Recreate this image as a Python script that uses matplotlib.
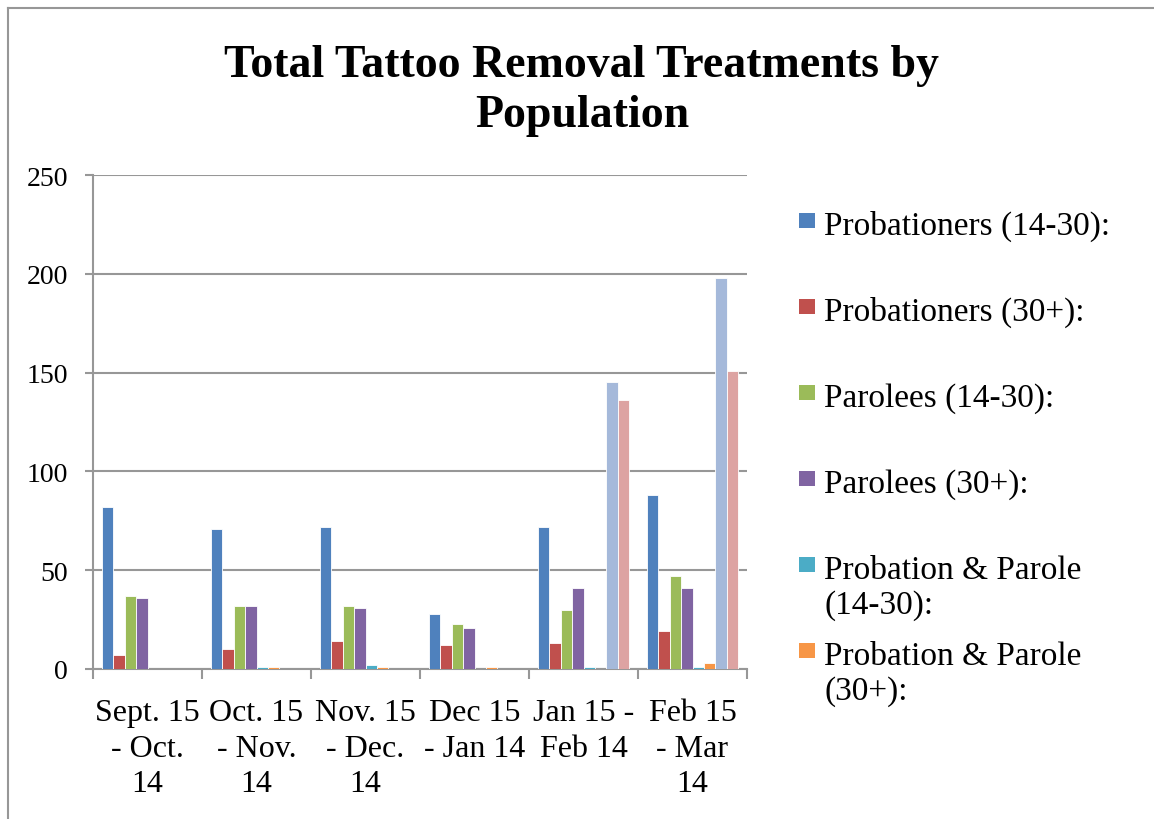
import numpy as np
import matplotlib
matplotlib.use("Agg")
import matplotlib.pyplot as plt
from matplotlib.patches import Rectangle
from matplotlib.lines import Line2D

plt.rcParams['font.family'] = ['Liberation Serif', 'DejaVu Serif']

periods = ["Sept. 15\n- Oct.\n14", "Oct. 15\n- Nov.\n14", "Nov. 15\n- Dec.\n14",
           "Dec 15\n- Jan 14", "Jan 15 -\nFeb 14", "Feb 15\n- Mar\n14"]

# treatments per period, one list per population
prob_young = [82, 71, 72, 28, 72, 88]
prob_old = [7, 10, 14, 12, 13, 19]
parole_young = [37, 32, 32, 23, 30, 47]
parole_old = [36, 32, 31, 21, 41, 41]
both_young = [0, 1, 2, 0, 1, 1]
both_old = [0, 1, 1, 1, 0, 3]
# two extra series that only show up in the last two periods (not in legend)
extra_a = [0, 0, 0, 0, 145, 198]
extra_b = [0, 0, 0, 0, 136, 151]

series = [prob_young, prob_old, parole_young, parole_old, both_young, both_old, extra_a, extra_b]
labels = ["Probationers (14-30):", "Probationers (30+):", "Parolees (14-30):",
          "Parolees (30+):", "Probation & Parole\n(14-30):", "Probation & Parole\n(30+):"]
colors = ["#4F81BD", "#C0504D", "#9BBB59", "#8064A2", "#4BACC6", "#F79646",
          "#A5B9DA", "#DDA3A2"]

W, H = 1154, 820
fig = plt.figure(figsize=(W / 100, H / 100), dpi=100)
ax = fig.add_axes([93 / W, 150 / H, 654 / W, 494 / H])

grey = "#979797"
x = np.arange(len(periods))
bw = 0.1055
for k, (vals, c) in enumerate(zip(series, colors)):
    ax.bar(x + (k - 3.5) * bw, vals, width=bw, color=c, edgecolor="white",
           linewidth=0.6, zorder=3)

ax.set_xlim(-0.5, len(periods) - 0.5)
ax.set_ylim(0, 250)
ax.set_yticks(np.arange(0, 251, 50))
ax.yaxis.grid(True, color=grey, linewidth=1.5, zorder=0)
ax.set_axisbelow(True)

for side in ("top", "right"):
    ax.spines[side].set_visible(False)
for side in ("left", "bottom"):
    ax.spines[side].set_color(grey)
    ax.spines[side].set_linewidth(1.5)

ax.set_xticks(x)
ax.set_xticklabels(periods, fontsize=23, linespacing=1.3)
ax.set_xticks(np.arange(-0.5, len(periods)), minor=True)
ax.tick_params(axis="x", which="major", length=0, pad=21)
ax.tick_params(axis="x", which="minor", length=7, width=1.5, color=grey, direction="out")
ax.tick_params(axis="y", length=6, width=1.5, color=grey, pad=12, labelsize=20)

fig.text(582 / W, 1 - 127 / H, "Total Tattoo Removal Treatments by\nPopulation",
         ha="center", va="baseline", fontsize=33, fontweight="bold", linespacing=1.25)

# legend drawn by hand, one entry every 86 px
for k, lab in enumerate(labels):
    base = 235 + 86 * k
    fig.patches.append(Rectangle((799 / W, 1 - (base - 6) / H), 16 / W, 15 / H,
                                 transform=fig.transFigure, facecolor=colors[k],
                                 edgecolor="none"))
    for j, line in enumerate(lab.split("\n")):
        fig.text(824 / W, 1 - (base + 35 * j) / H, line, ha="left", va="baseline",
                 fontsize=24)

# outer chart frame (left and top edges)
fig.lines.append(Line2D([7.5 / W, 7.5 / W], [0, 1 - 8.5 / H], transform=fig.transFigure,
                        color=grey, linewidth=1.5))
fig.lines.append(Line2D([7.5 / W, 1], [1 - 8.5 / H, 1 - 8.5 / H], transform=fig.transFigure,
                        color=grey, linewidth=1.5))

fig.savefig("out.png", dpi=100)
